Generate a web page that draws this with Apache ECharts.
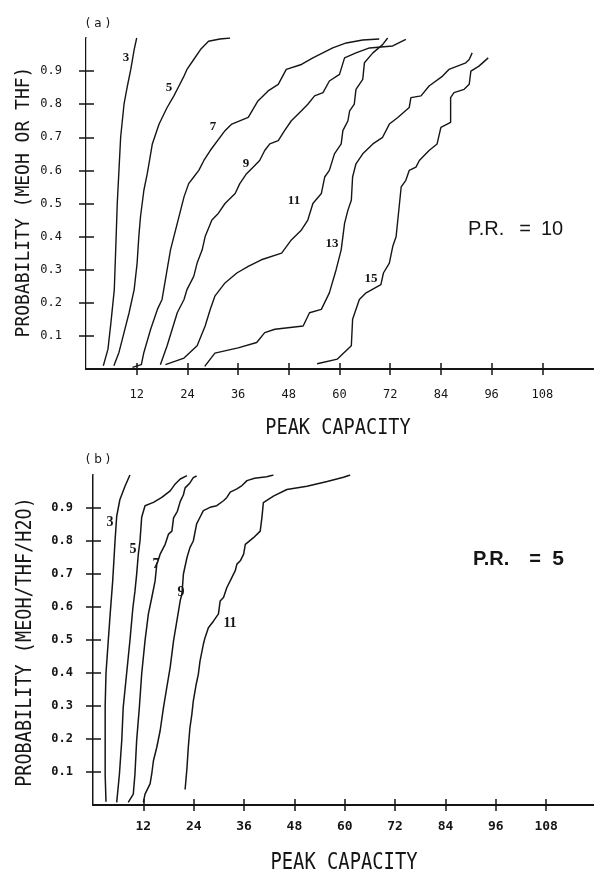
<!DOCTYPE html>
<html>
<head>
<meta charset="utf-8">
<script src="https://cdn.jsdelivr.net/npm/echarts@6/dist/echarts.min.js"></script>
<style>
html,body{margin:0;padding:0;background:#fff;}
#chart{width:594px;height:873px;}
</style>
</head>
<body>
<div id="chart"></div>
<script>
// ---------- tick values / labels ----------
const xTicks = [12, 24, 36, 48, 60, 72, 84, 96, 108];
const yTicks = [0.1, 0.2, 0.3, 0.4, 0.5, 0.6, 0.7, 0.8, 0.9];

// ---------- panel (a): P.R. = 10, MEOH or THF ----------
const a_n3 = [[4.1,0.01],[5.2,0.06],[5.9,0.14],[6.7,0.24],[7.0,0.35],[7.4,0.50],[7.8,0.60],[8.2,0.70],[9.0,0.80],[9.8,0.855],[10.6,0.905],[11.4,0.965],[12.0,1.0]];
const a_n5 = [[6.6,0.01],[7.8,0.05],[9.0,0.11],[10.2,0.17],[11.4,0.24],[12.1,0.32],[12.5,0.40],[12.9,0.46],[13.7,0.54],[14.5,0.59],[14.9,0.62],[15.7,0.68],[16.5,0.71],[17.3,0.74],[19.2,0.79],[20.8,0.825],[22.0,0.855],[23.2,0.885],[23.9,0.905],[25.5,0.935],[27.1,0.965],[29.0,0.99],[31.7,0.997],[34.1,1.0]];
const a_n7 = [[11.0,0.005],[13.1,0.013],[13.7,0.05],[15.3,0.12],[16.9,0.18],[18.0,0.21],[19.2,0.30],[20.0,0.36],[20.8,0.40],[21.6,0.44],[22.4,0.48],[23.2,0.52],[24.3,0.56],[25.5,0.58],[26.7,0.60],[27.9,0.63],[29.4,0.66],[32.9,0.72],[34.5,0.74],[38.4,0.76],[40.7,0.81],[43.1,0.84],[45.5,0.86],[47.4,0.905],[51.0,0.92],[53.7,0.94],[58.4,0.97],[61.6,0.985],[65.5,0.994],[69.4,0.997]];
const a_n9 = [[17.6,0.013],[19.2,0.07],[20.4,0.12],[21.6,0.17],[23.2,0.21],[23.9,0.24],[25.5,0.28],[26.3,0.32],[27.5,0.36],[28.2,0.40],[29.8,0.45],[31.3,0.47],[32.9,0.50],[35.3,0.53],[36.4,0.56],[38.0,0.59],[39.6,0.61],[41.1,0.63],[42.3,0.66],[43.5,0.68],[45.5,0.69],[47.0,0.72],[48.6,0.75],[51.0,0.78],[52.5,0.80],[54.1,0.825],[56.1,0.835],[57.6,0.87],[60.0,0.89],[61.2,0.94],[63.9,0.955],[67.1,0.97],[72.6,0.976],[75.7,0.996]];
const a_n11 = [[18.8,0.013],[23.2,0.033],[26.3,0.07],[28.2,0.13],[29.4,0.18],[30.5,0.22],[32.9,0.26],[35.7,0.29],[38.4,0.31],[41.5,0.33],[46.3,0.35],[48.6,0.39],[51.0,0.42],[52.5,0.45],[53.7,0.50],[55.7,0.53],[56.5,0.58],[57.6,0.60],[58.8,0.65],[60.4,0.68],[60.8,0.72],[62.0,0.75],[62.4,0.78],[63.5,0.80],[63.9,0.845],[65.5,0.875],[65.9,0.925],[67.9,0.955],[70.2,0.98],[71.4,1.0]];
const a_n13 = [[28.1,0.008],[30.5,0.048],[36.0,0.064],[40.4,0.08],[42.3,0.11],[44.7,0.12],[51.4,0.13],[52.9,0.17],[55.7,0.18],[57.6,0.23],[59.2,0.30],[60.4,0.36],[60.8,0.40],[61.2,0.44],[62.0,0.48],[62.8,0.51],[63.1,0.58],[63.9,0.62],[65.5,0.65],[67.9,0.68],[70.2,0.70],[71.8,0.74],[73.8,0.76],[76.5,0.79],[76.9,0.82],[79.3,0.825],[81.2,0.855],[84.4,0.885],[85.9,0.905],[89.9,0.925],[90.7,0.935],[91.4,0.955]];
const a_n15 = [[54.7,0.016],[59.5,0.03],[62.8,0.07],[63.1,0.15],[64.7,0.21],[66.3,0.23],[69.8,0.255],[70.4,0.29],[71.8,0.32],[72.6,0.37],[73.4,0.40],[74.2,0.50],[74.6,0.55],[75.7,0.57],[76.5,0.60],[78.1,0.61],[78.9,0.63],[81.2,0.66],[83.1,0.68],[84.0,0.73],[86.3,0.745],[86.3,0.82],[87.1,0.835],[89.5,0.845],[90.7,0.86],[91.1,0.90],[93.0,0.915],[95.2,0.94]];

// ---------- panel (b): P.R. = 5, MEOH/THF/H2O ----------
const b_n3 = [[3.1,0.01],[2.9,0.09],[2.9,0.30],[3.1,0.40],[3.65,0.50],[4.1,0.58],[4.7,0.68],[5.25,0.80],[5.65,0.875],[6.4,0.925],[7.6,0.965],[8.8,1.0]];
const b_n5 = [[5.65,0.008],[6.3,0.094],[6.85,0.195],[7.2,0.296],[8.0,0.397],[8.8,0.498],[9.5,0.597],[10.0,0.648],[10.4,0.699],[10.8,0.76],[11.2,0.80],[11.6,0.872],[12.4,0.907],[14.4,0.917],[16.4,0.932],[18.4,0.952],[19.6,0.973],[20.8,0.988],[22.4,0.998]];
const b_n7 = [[8.4,0.008],[9.6,0.033],[10.0,0.094],[10.4,0.195],[11.05,0.296],[11.6,0.397],[12.4,0.498],[13.2,0.579],[14.0,0.628],[14.8,0.679],[15.2,0.729],[16.0,0.76],[17.2,0.79],[18.0,0.821],[18.8,0.83],[19.2,0.87],[20.1,0.89],[20.8,0.92],[21.55,0.94],[21.95,0.961],[23.1,0.976],[23.9,0.992],[24.7,0.997]];
const b_n9 = [[12.0,0.008],[12.4,0.033],[13.6,0.064],[14.0,0.094],[14.4,0.134],[15.2,0.175],[16.0,0.225],[16.8,0.296],[17.6,0.357],[18.4,0.418],[19.2,0.498],[20.0,0.559],[20.8,0.62],[21.2,0.64],[21.55,0.70],[22.4,0.75],[23.1,0.78],[23.9,0.80],[24.7,0.852],[25.5,0.872],[26.3,0.892],[27.9,0.902],[29.5,0.907],[31.1,0.922],[31.9,0.932],[32.7,0.948],[34.3,0.958],[35.5,0.968],[36.7,0.983],[38.5,0.99],[41.4,0.995],[43.0,1.0]];
const b_n11 = [[21.95,0.047],[22.4,0.113],[22.7,0.173],[23.1,0.234],[23.55,0.274],[23.9,0.315],[24.6,0.366],[25.1,0.396],[25.5,0.436],[26.3,0.487],[26.7,0.507],[27.5,0.537],[28.7,0.557],[29.9,0.579],[30.3,0.618],[31.1,0.629],[31.9,0.659],[32.7,0.679],[33.9,0.71],[34.3,0.73],[35.1,0.74],[35.9,0.76],[36.3,0.79],[38.25,0.81],[39.85,0.83],[40.25,0.87],[40.6,0.916],[43.0,0.936],[46.2,0.956],[51.0,0.966],[55.8,0.98],[59.7,0.993],[61.3,1.0]];

const panelA = [a_n3, a_n5, a_n7, a_n9, a_n11, a_n13, a_n15];
const panelB = [b_n3, b_n5, b_n7, b_n9, b_n11];
const curveNamesA = ['3','5','7','9','11','13','15'];
const curveNamesB = ['3','5','7','9','11'];

// ---------- build option ----------
const INK = '#151515';
const MONO = '"DejaVu Sans Mono", monospace';

function xAxes(gi, maxX, labelStyle) {
  return [
    { gridIndex: gi, type: 'value', position: 'bottom', min: 0, max: maxX,
      axisLine: { show: true, lineStyle: { color: INK, width: 2 } },
      axisTick: { show: true, inside: false, length: 6, lineStyle: { color: INK, width: 1.5 }, customValues: xTicks },
      axisLabel: Object.assign({ show: true, customValues: xTicks, color: INK, fontFamily: MONO, formatter: v => String(v) }, labelStyle),
      splitLine: { show: false } },
    { gridIndex: gi, type: 'value', position: 'bottom', min: 0, max: maxX,
      axisLine: { show: false },
      axisTick: { show: true, inside: true, length: 6, lineStyle: { color: INK, width: 1.5 }, customValues: xTicks },
      axisLabel: { show: false }, splitLine: { show: false } },
    { gridIndex: gi, type: 'value', position: 'top', min: 0, max: maxX,
      axisLine: { show: true, lineStyle: { color: INK, width: 2 } },
      axisTick: { show: false }, axisLabel: { show: false }, splitLine: { show: false } }
  ];
}
function yAxes(gi, labelStyle, rightColor) {
  return [
    { gridIndex: gi, type: 'value', position: 'left', min: 0, max: 1,
      axisLine: { show: true, lineStyle: { color: INK, width: 2 } },
      axisTick: { show: true, inside: false, length: 7, lineStyle: { color: INK, width: 1.5 }, customValues: yTicks },
      axisLabel: Object.assign({ show: true, customValues: yTicks, color: INK, fontFamily: MONO, formatter: v => v.toFixed(1) }, labelStyle),
      splitLine: { show: false } },
    { gridIndex: gi, type: 'value', position: 'left', min: 0, max: 1,
      axisLine: { show: false },
      axisTick: { show: true, inside: true, length: 8, lineStyle: { color: INK, width: 1.5 }, customValues: yTicks },
      axisLabel: { show: false }, splitLine: { show: false } },
    { gridIndex: gi, type: 'value', position: 'right', min: 0, max: 1,
      axisLine: { show: true, lineStyle: { color: rightColor, width: 1 } },
      axisTick: { show: false }, axisLabel: { show: false }, splitLine: { show: false } }
  ];
}

const series = [];
panelA.forEach((d, i) => series.push({
  name: 'a' + curveNamesA[i], type: 'line', xAxisIndex: 0, yAxisIndex: 0, data: d,
  showSymbol: false, symbol: 'none', lineStyle: { color: INK, width: 1.4 }, silent: true, animation: false
}));
panelB.forEach((d, i) => series.push({
  name: 'b' + curveNamesB[i], type: 'line', xAxisIndex: 3, yAxisIndex: 3, data: d,
  showSymbol: false, symbol: 'none', lineStyle: { color: INK, width: 1.5 }, silent: true, animation: false
}));

function txt(text, x, y, font, opts) {
  return Object.assign({
    type: 'text', x: x, y: y, silent: true,
    style: Object.assign({ text: text, fill: INK, align: 'center', verticalAlign: 'middle' }, font)
  }, opts || {});
}

const labelFontA = { fontFamily: '"Liberation Serif", serif', fontWeight: 'bold', fontSize: 13 };
const labelFontB = { fontFamily: '"Liberation Serif", serif', fontWeight: 'bold', fontSize: 14 };
const posA = [[126,58],[169,88],[213,127],[246,164],[294,201],[332,244],[371,279]];
const posB = [[110,522],[133,549],[156,564],[181,592],[230,623]];

const graphic = [
  txt('( a )', 98, 24, { fontFamily: '"DejaVu Sans", sans-serif', fontSize: 12 }),
  txt('( b )', 98, 460, { fontFamily: '"DejaVu Sans", sans-serif', fontSize: 12 }),
  txt('PROBABILITY (MEOH OR THF)', 24, 202, { fontFamily: MONO, fontSize: 18 }, { rotation: Math.PI / 2, scaleY: 1.12 }),
  txt('PROBABILITY (MEOH/THF/H2O)', 26, 642, { fontFamily: MONO, fontSize: 18.5 }, { rotation: Math.PI / 2, scaleY: 1.1 }),
  txt('PEAK CAPACITY', 338, 429, { fontFamily: MONO, fontSize: 18.6 }, { scaleY: 1.1 }),
  txt('PEAK CAPACITY', 344, 863, { fontFamily: MONO, fontSize: 18.8 }, { scaleY: 1.2 }),
  txt('P.R.', 468, 229, { fontFamily: '"Liberation Sans", sans-serif', fontSize: 20, align: 'left' }),
  txt('=', 525, 229, { fontFamily: '"Liberation Sans", sans-serif', fontSize: 20 }),
  txt('10', 552, 229, { fontFamily: '"Liberation Sans", sans-serif', fontSize: 20 }),
  txt('P.R.', 473, 559, { fontFamily: '"Liberation Sans", sans-serif', fontSize: 20, fontWeight: 'bold', align: 'left' }),
  txt('=', 535, 559, { fontFamily: '"Liberation Sans", sans-serif', fontSize: 20, fontWeight: 'bold' }),
  txt('5', 558, 559, { fontFamily: '"Liberation Sans", sans-serif', fontSize: 21, fontWeight: 'bold' })
];
curveNamesA.forEach((n, i) => graphic.push(txt(n, posA[i][0], posA[i][1], labelFontA)));
curveNamesB.forEach((n, i) => graphic.push(txt(n, posB[i][0], posB[i][1], labelFontB)));

const option = {
  animation: false,
  backgroundColor: '#ffffff',
  grid: [
    { left: 86, top: 38, width: 507, height: 331, show: false },
    { left: 93, top: 475, width: 501, height: 330, show: false }
  ],
  xAxis: [].concat(
    xAxes(0, 120, { fontSize: 12, margin: 20 }),
    xAxes(1, 119.4, { fontSize: 13, fontWeight: 'bold', margin: 15 })
  ),
  yAxis: [].concat(
    yAxes(0, { fontSize: 12, margin: 24 }, '#c8c8c8'),
    yAxes(1, { fontSize: 12, fontWeight: 'bold', margin: 20 }, '#8a8a8a')
  ),
  series: series,
  graphic: graphic
};

const chart = echarts.init(document.getElementById('chart'), null, { renderer: 'canvas' });
chart.setOption(option);
</script>
</body>
</html>
